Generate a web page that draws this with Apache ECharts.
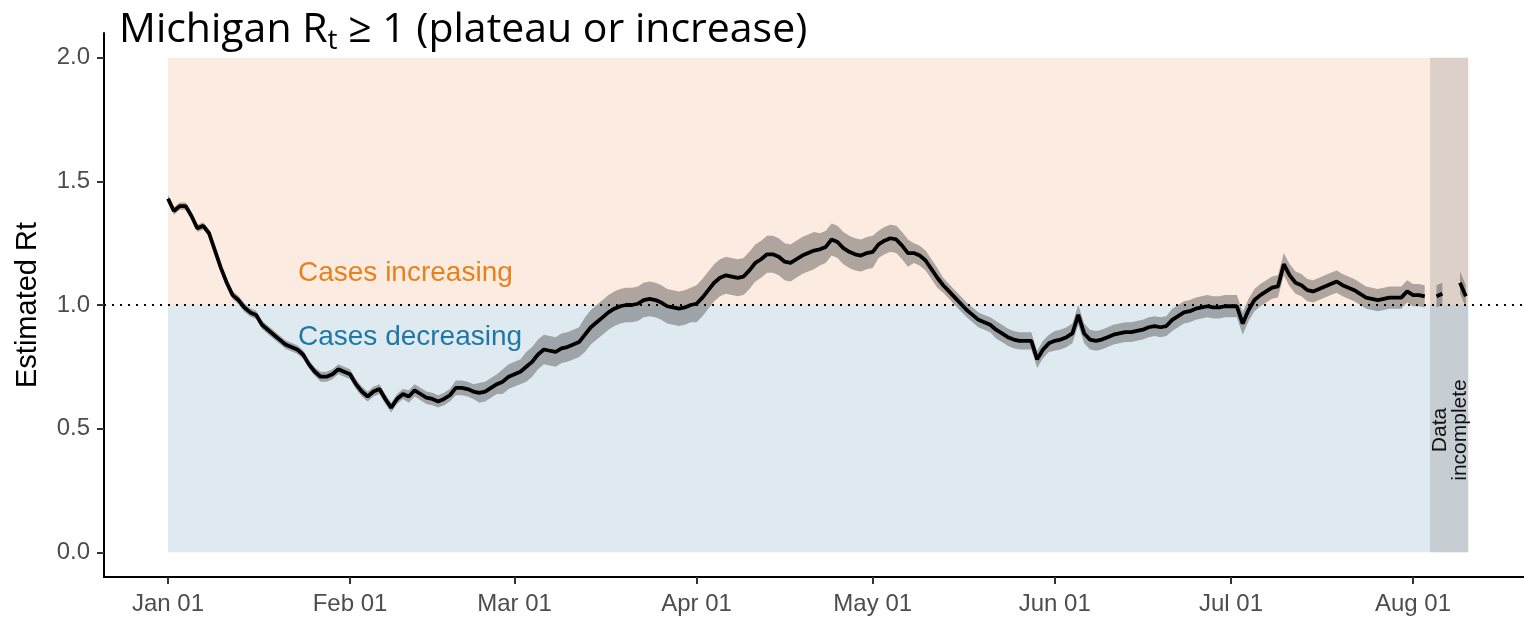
<!DOCTYPE html>
<html>
<head>
<meta charset="utf-8">
<title>Michigan Rt</title>
<script src="https://cdn.jsdelivr.net/npm/echarts@6/dist/echarts.min.js"></script>
<style>
  html, body { margin: 0; padding: 0; background: #fff; }
  #chart { width: 1524px; height: 621px; }
</style>
</head>
<body>
<div id="chart"></div>
<script>
// x is days since Jan 01
const monthDays = [0, 31, 59, 90, 120, 151, 181, 212];
const monthLabels = ["Jan 01", "Feb 01", "Mar 01", "Apr 01", "May 01", "Jun 01", "Jul 01", "Aug 01"];
const yTicks = [0, 0.5, 1, 1.5, 2];

// estimated Rt, one value per day from Jan 01
const rt = [
  1.43, 1.38, 1.40, 1.40, 1.36, 1.31, 1.32, 1.29, 1.22, 1.15,
  1.09, 1.04, 1.02, 0.99, 0.97, 0.96, 0.92, 0.90, 0.88, 0.86,
  0.84, 0.83, 0.82, 0.80, 0.76, 0.73, 0.71, 0.71, 0.72, 0.74,
  0.73, 0.72, 0.68, 0.65, 0.63, 0.65, 0.66, 0.62, 0.585, 0.62,
  0.64, 0.63, 0.655, 0.64, 0.625, 0.62, 0.61, 0.62, 0.635, 0.665,
  0.665, 0.66, 0.65, 0.645, 0.65, 0.665, 0.68, 0.69, 0.71, 0.72,
  0.73, 0.75, 0.77, 0.80, 0.82, 0.815, 0.81, 0.825, 0.83, 0.84,
  0.85, 0.88, 0.91, 0.93, 0.95, 0.97, 0.985, 0.995, 1.00, 1.00,
  1.005, 1.02, 1.025, 1.02, 1.01, 0.995, 0.99, 0.985, 0.99, 1.00,
  1.005, 1.03, 1.06, 1.09, 1.11, 1.12, 1.115, 1.11, 1.115, 1.14,
  1.17, 1.185, 1.205, 1.205, 1.195, 1.175, 1.17, 1.185, 1.20, 1.21,
  1.22, 1.225, 1.235, 1.265, 1.255, 1.23, 1.215, 1.205, 1.20, 1.21,
  1.215, 1.245, 1.26, 1.27, 1.265, 1.24, 1.21, 1.21, 1.20, 1.18,
  1.145, 1.11, 1.08, 1.055, 1.03, 1.005, 0.98, 0.96, 0.94, 0.93,
  0.92, 0.90, 0.885, 0.87, 0.86, 0.855, 0.855, 0.855, 0.78, 0.82,
  0.845, 0.855, 0.86, 0.87, 0.885, 0.96, 0.885, 0.86, 0.855, 0.86,
  0.87, 0.88, 0.885, 0.89, 0.89, 0.895, 0.90, 0.91, 0.915, 0.91,
  0.915, 0.94, 0.955, 0.97, 0.975, 0.985, 0.99, 0.995, 0.99, 0.99,
  0.995, 0.995, 0.995, 0.925, 0.98, 1.02, 1.04, 1.055, 1.07, 1.075,
  1.165, 1.12, 1.09, 1.08, 1.06, 1.055, 1.065, 1.075, 1.085, 1.095,
  1.08, 1.07, 1.06, 1.045, 1.03, 1.025, 1.02, 1.025, 1.03, 1.03,
  1.03, 1.055, 1.04, 1.04, 1.035, null, 1.035, 1.045, null, null,
  1.09, 1.035
];

// half width of the uncertainty band, per day
const bandHalf = [
  0.015, 0.015, 0.015, 0.015, 0.015, 0.015, 0.015, 0.015, 0.015, 0.015,
  0.017, 0.017, 0.017, 0.017, 0.017, 0.017, 0.017, 0.017, 0.017, 0.017,
  0.017, 0.017, 0.017, 0.017, 0.017, 0.017, 0.02, 0.02, 0.02, 0.02,
  0.02, 0.02, 0.02, 0.02, 0.02, 0.02, 0.02, 0.02, 0.02, 0.02,
  0.02, 0.025, 0.025, 0.025, 0.025, 0.025, 0.025, 0.025, 0.025, 0.03,
  0.03, 0.03, 0.03, 0.04, 0.04, 0.04, 0.04, 0.05, 0.05, 0.05,
  0.05, 0.06, 0.06, 0.06, 0.06, 0.06, 0.06, 0.06, 0.06, 0.06,
  0.06, 0.07, 0.07, 0.07, 0.07, 0.07, 0.07, 0.07, 0.07, 0.07,
  0.07, 0.07, 0.07, 0.07, 0.07, 0.07, 0.07, 0.07, 0.07, 0.07,
  0.075, 0.075, 0.075, 0.075, 0.075, 0.075, 0.075, 0.075, 0.075, 0.075,
  0.075, 0.075, 0.075, 0.075, 0.075, 0.075, 0.075, 0.075, 0.075, 0.075,
  0.075, 0.065, 0.065, 0.065, 0.065, 0.065, 0.065, 0.065, 0.065, 0.065,
  0.065, 0.055, 0.055, 0.055, 0.055, 0.055, 0.055, 0.04, 0.04, 0.04,
  0.04, 0.04, 0.03, 0.03, 0.03, 0.03, 0.03, 0.03, 0.03, 0.03,
  0.03, 0.035, 0.035, 0.035, 0.035, 0.035, 0.035, 0.035, 0.035, 0.035,
  0.035, 0.04, 0.04, 0.04, 0.04, 0.04, 0.04, 0.04, 0.04, 0.04,
  0.04, 0.04, 0.04, 0.04, 0.04, 0.04, 0.04, 0.04, 0.04, 0.04,
  0.04, 0.045, 0.045, 0.045, 0.045, 0.045, 0.045, 0.045, 0.045, 0.045,
  0.045, 0.045, 0.045, 0.045, 0.045, 0.045, 0.045, 0.045, 0.045, 0.045,
  0.045, 0.045, 0.045, 0.045, 0.045, 0.045, 0.045, 0.045, 0.045, 0.045,
  0.045, 0.045, 0.045, 0.045, 0.045, 0.045, 0.045, 0.045, 0.045, 0.045,
  0.045, 0.045, 0.045, 0.045, 0.045, 0.045, 0.045, 0.045, 0.045, 0.045,
  0.045, 0.045
];

// shaded backgrounds (days since Jan 01)
const shadeEnd = 221.4;
const incompleteStart = 214.9;

const lineData = rt.map((v, i) => [i, v]);

// the band is drawn as one polygon per run of days that have a value
function renderBand(params, api) {
  const children = [];
  let run = [];
  const flush = () => {
    if (run.length > 1) {
      const top = run.map((i) => api.coord([i, rt[i] + bandHalf[i]]));
      const bottom = run.slice().reverse().map((i) => api.coord([i, rt[i] - bandHalf[i]]));
      children.push({
        type: "polygon",
        shape: { points: top.concat(bottom) },
        style: { fill: "rgba(60,60,60,0.4)" },
      });
    }
    run = [];
  };
  rt.forEach((v, i) => {
    if (v == null) flush();
    else run.push(i);
  });
  flush();
  return { type: "group", children };
}

const chart = echarts.init(document.getElementById("chart"));
chart.setOption({
  animation: false,
  title: {
    left: 114,
    top: 0,
    text: "{m|Michigan R}{s|t}{m| ≥ 1 (plateau or increase)}",
    textStyle: {
      rich: {
        m: { fontFamily: "Open Sans", fontWeight: "normal", fontSize: 41, color: "#000", lineHeight: 50 },
        s: { fontFamily: "Open Sans", fontWeight: "normal", fontSize: 28, color: "#000", lineHeight: 8, verticalAlign: "bottom" },
      },
    },
  },
  grid: { left: 104, right: 0, top: 33, bottom: 44 },
  xAxis: {
    type: "value",
    min: -10.9,
    max: 230.9,
    axisLine: { onZero: false, lineStyle: { color: "#000", width: 2 } },
    axisTick: { customValues: monthDays, length: 7, lineStyle: { color: "#333", width: 2 } },
    axisLabel: {
      customValues: monthDays,
      formatter: (v) => monthLabels[monthDays.indexOf(v)],
      fontFamily: "Liberation Sans",
      fontSize: 24,
      color: "#4d4d4d",
      margin: 15,
    },
    splitLine: { show: false },
  },
  yAxis: {
    type: "value",
    min: -0.1,
    max: 2.1,
    name: "Estimated Rt",
    nameLocation: "middle",
    nameGap: 62,
    nameTextStyle: { fontFamily: "Liberation Sans", fontSize: 29, color: "#000" },
    axisLine: { show: true, onZero: false, lineStyle: { color: "#000", width: 2 } },
    axisTick: { show: true, customValues: yTicks, length: 7, lineStyle: { color: "#333", width: 2 } },
    axisLabel: {
      customValues: yTicks,
      formatter: (v) => v.toFixed(1),
      fontFamily: "Liberation Sans",
      fontSize: 24,
      color: "#4d4d4d",
      margin: 14,
    },
    splitLine: { show: false },
  },
  series: [
    {
      name: "band",
      type: "custom",
      silent: true,
      z: 2,
      data: [[0, 1]],
      encode: { x: 0, y: 1 },
      renderItem: renderBand,
    },
    {
      name: "Rt",
      type: "line",
      z: 3,
      data: lineData,
      symbol: "none",
      connectNulls: false,
      lineStyle: { color: "#000", width: 3.8 },
      markArea: {
        silent: true,
        z: 1,
        data: [
          [{ xAxis: 0, yAxis: 1, itemStyle: { color: "#fcebe0" } }, { xAxis: shadeEnd, yAxis: 2 }],
          [{ xAxis: 0, yAxis: 0, itemStyle: { color: "#dfe9f0" } }, { xAxis: shadeEnd, yAxis: 1 }],
          [{ xAxis: incompleteStart, yAxis: 0, itemStyle: { color: "rgba(145,145,145,0.3)" } }, { xAxis: shadeEnd, yAxis: 2 }],
        ],
      },
      markLine: {
        silent: true,
        symbol: "none",
        label: { show: false },
        lineStyle: { color: "#000", type: [2, 6], width: 2 },
        data: [{ yAxis: 1 }],
      },
    },
  ],
  graphic: [
    {
      type: "text",
      z: 10,
      x: 298,
      y: 273,
      style: { text: "Cases increasing", font: "28px 'Liberation Sans'", fill: "#e8801c", align: "left", verticalAlign: "middle" },
    },
    {
      type: "text",
      z: 10,
      x: 298,
      y: 337,
      style: { text: "Cases decreasing", font: "28px 'Liberation Sans'", fill: "#1e78a4", align: "left", verticalAlign: "middle" },
    },
    {
      type: "text",
      z: 10,
      x: 1450,
      y: 430,
      rotation: Math.PI / 2,
      style: { text: "Data\nincomplete", font: "21px 'Liberation Sans'", lineHeight: 20, fill: "#111", align: "center", verticalAlign: "middle" },
    },
  ],
});
</script>
</body>
</html>
